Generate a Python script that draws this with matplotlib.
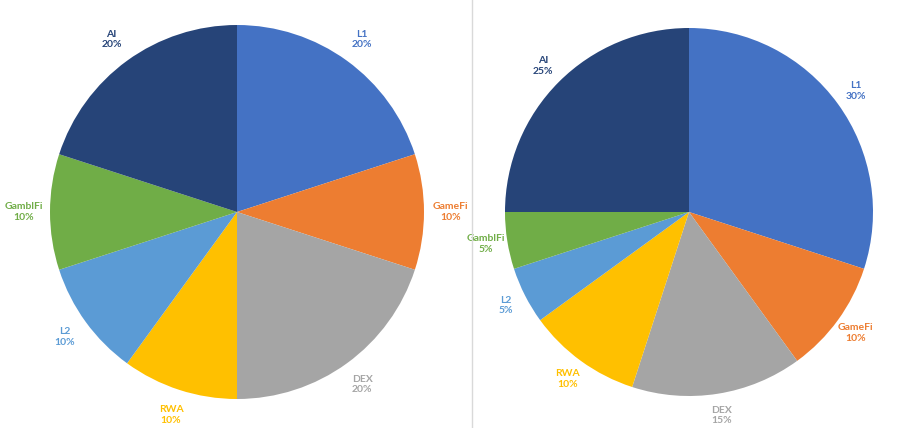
"""Two pie charts of sector allocation, side by side."""

import matplotlib

matplotlib.use("Agg")
import matplotlib.pyplot as plt
from matplotlib.lines import Line2D

categories = ["L1", "GameFi", "DEX", "RWA", "L2", "GamblFi", "AI"]
left_shares = [20, 10, 20, 10, 10, 10, 20]
right_shares = [30, 10, 15, 10, 5, 5, 25]
colors = ["#4472C4", "#ED7D31", "#A5A5A5", "#FFC000", "#5B9BD5", "#70AD47", "#264478"]


def draw_pie(axis, shares, label_distance):
    labels = [f"{name}\n{share}%" for name, share in zip(categories, shares)]
    wedges, texts = axis.pie(
        shares,
        labels=labels,
        colors=colors,
        startangle=90,
        counterclock=False,
        labeldistance=label_distance,
        wedgeprops={"linewidth": 0},
        textprops={"fontsize": 7.5, "fontweight": "bold", "family": ["Lato", "DejaVu Sans"]},
    )
    for text, color in zip(texts, colors):
        text.set_color(color)
        text.set_ha("center")
        text.set_va("center")
        text.set_linespacing(1.25)
        text.set_zorder(0.5)
        text.set_clip_on(False)
    for wedge in wedges:
        wedge.set_zorder(1)
    axis.set_xlim(-1, 1)
    axis.set_ylim(-1, 1)
    axis.set_aspect("equal")
    axis.axis("off")


fig = plt.figure(figsize=(9.04, 4.28), dpi=100)
ax_left = fig.add_axes([50 / 904, 29 / 428, 374 / 904, 374 / 428])
ax_right = fig.add_axes([505 / 904, 32 / 428, 368 / 904, 368 / 428])

draw_pie(ax_left, left_shares, 1.14)
draw_pie(ax_right, right_shares, 1.12)

fig.add_artist(Line2D([472 / 904, 472 / 904], [0, 1], color="#d9d9d9", linewidth=1))

fig.savefig("out.png", dpi=100)
